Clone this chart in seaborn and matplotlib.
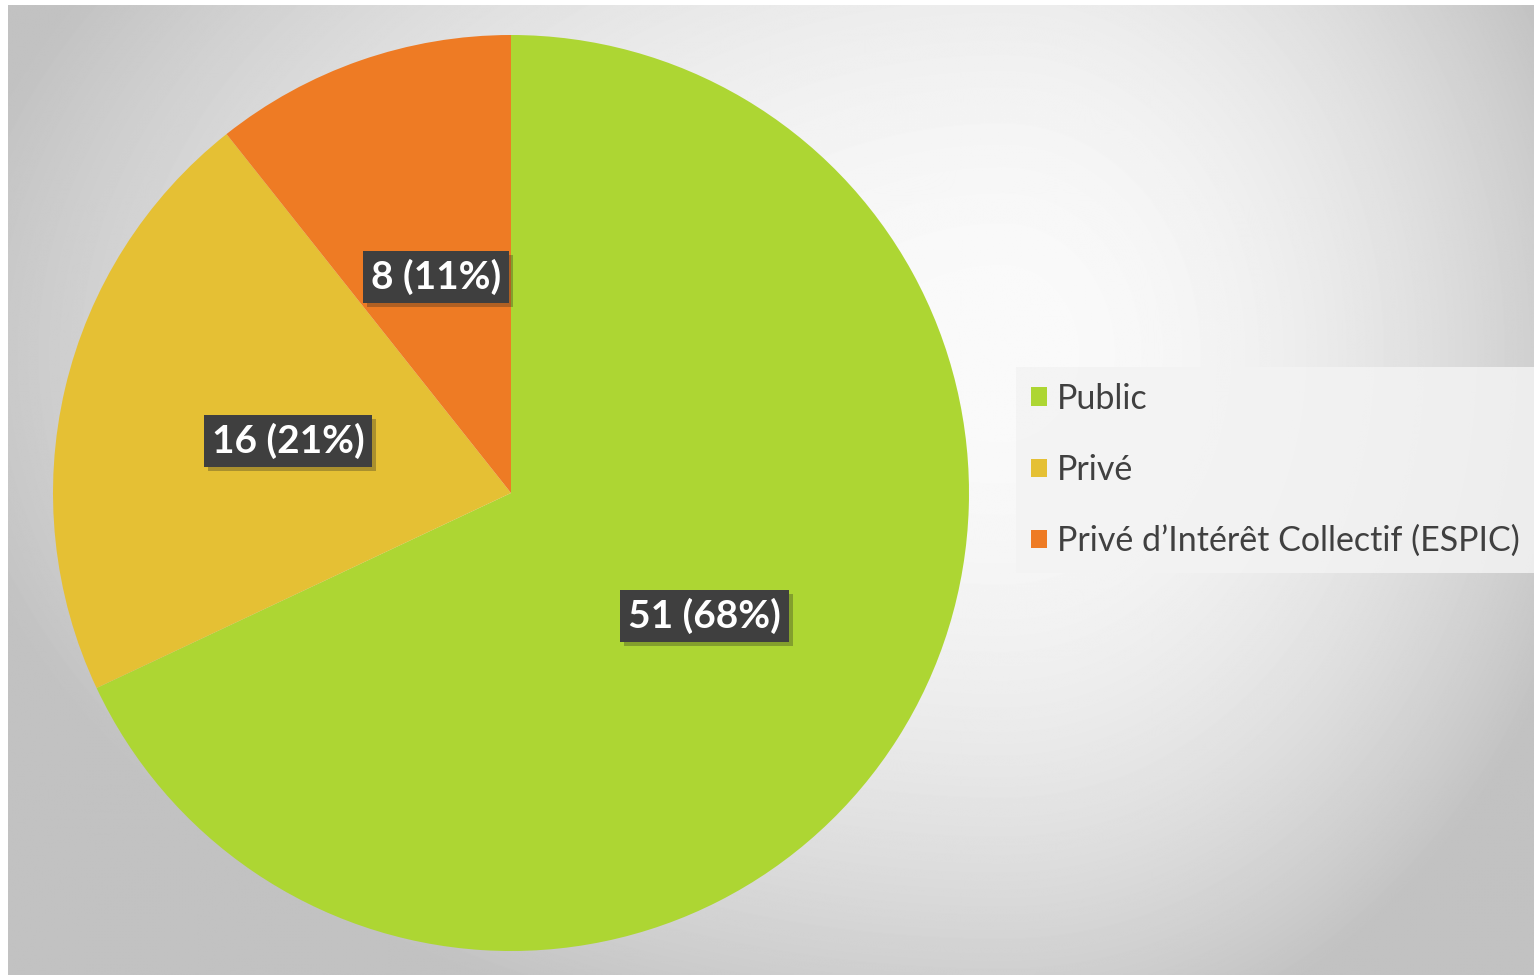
import numpy as np
import matplotlib.pyplot as plt
import matplotlib.patheffects as pe
import seaborn as sns

# Data
categories = ['Public', 'Privé', "Privé d’Intérêt Collectif (ESPIC)"]
counts = [51, 16, 8]
colors = sns.color_palette(['#ADD633', '#E5C034', '#EE7B24'])

sns.set_theme(style="white")
plt.rcParams['font.family'] = ['Lato', 'DejaVu Sans']

W, H = 1534, 975
fig = plt.figure(figsize=(W / 100, H / 100), dpi=100)
fig.patch.set_facecolor('white')

# grey background, light spot right of the pie
bg = fig.add_axes([8 / W, 0, 1 - 8 / W, 1 - 5 / H])
yy, xx = np.mgrid[0:H, 0:W]
gx = np.where(xx > 1000, (xx - 1000) / 600.0, (xx - 1000) / 1050.0)
gy = (yy - 350) / 700.0
d2 = gx ** 2 + gy ** 2
shade = np.clip(0.98 - 0.21 * d2, 0.76, 0.98)
bg.imshow(shade, cmap='gray', vmin=0, vmax=1, aspect='auto', interpolation='bilinear')
bg.axis('off')

# pie
cx, cy, r = 511, 493, 458
ax = fig.add_axes([(cx - r) / W, (H - cy - r) / H, 2 * r / W, 2 * r / H])
total = sum(counts)
wedges, _, autotexts = ax.pie(
    counts, colors=colors, startangle=90, counterclock=False, radius=1,
    autopct=lambda p: f'{round(p * total / 100)} ({p:.0f}%)', pctdistance=0.5,
    textprops=dict(color='white', fontsize=28, fontweight='bold'),
    wedgeprops=dict(linewidth=0))
for t in autotexts:
    t.set_bbox(dict(boxstyle='square,pad=0.2', facecolor='#3f3f3f', edgecolor='none'))
    t.get_bbox_patch().set_path_effects(
        [pe.SimplePatchShadow(offset=(3, -3), shadow_rgbFace='#222222', alpha=0.3), pe.Normal()])
ax.set_xlim(-1, 1)
ax.set_ylim(-1, 1)
ax.set_aspect('auto')
ax.axis('off')

leg = fig.legend(wedges, categories, loc='center left', borderaxespad=0,
                 bbox_to_anchor=(1016 / W, 1 - 470 / H), frameon=True, fancybox=False,
                 fontsize=24.5, handlelength=0.45, handleheight=0.45, handletextpad=0.3,
                 labelspacing=1.15, borderpad=0.45, labelcolor='#404040')
leg.get_frame().set_facecolor('#f3f3f3')
leg.get_frame().set_edgecolor('none')
leg.get_frame().set_alpha(0.85)

fig.savefig('out.png', dpi=100)
